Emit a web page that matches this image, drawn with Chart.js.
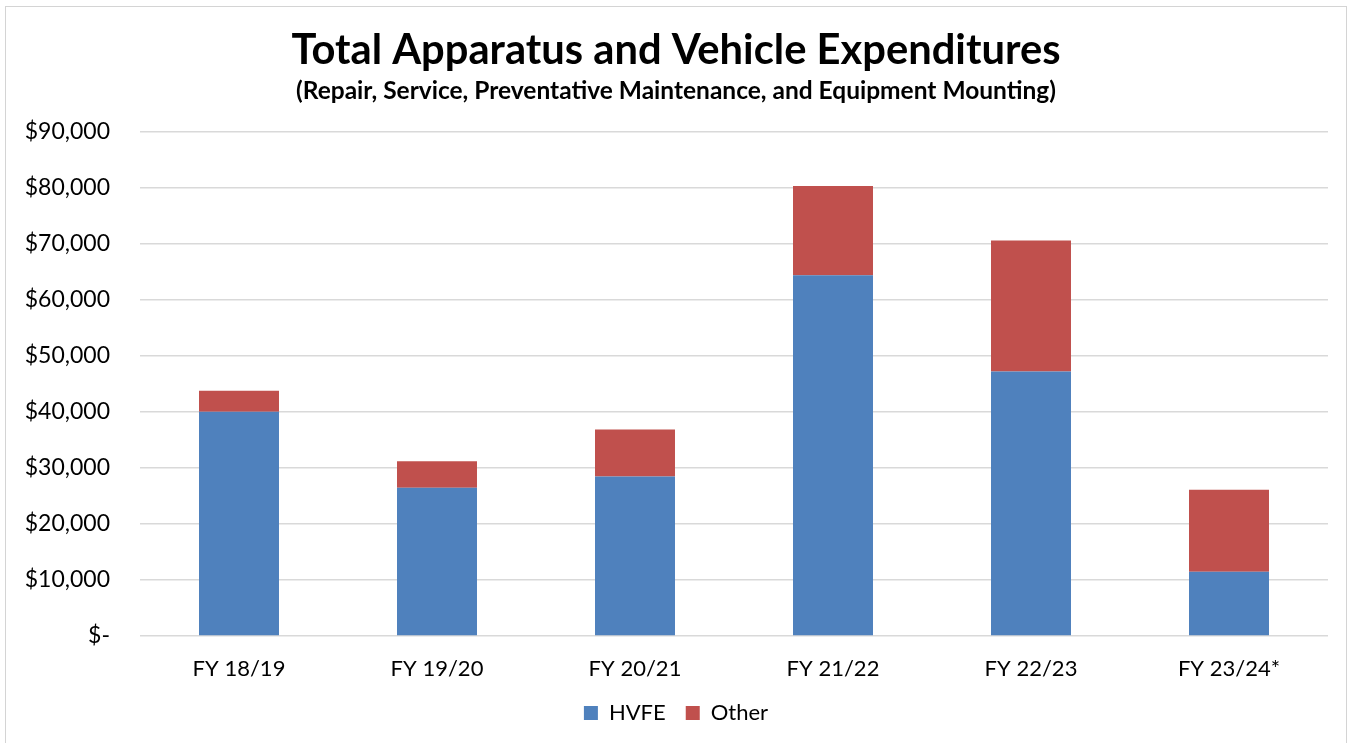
<!DOCTYPE html>
<html>
<head>
<meta charset="utf-8">
<script src="https://cdn.jsdelivr.net/npm/chart.js@4/dist/chart.umd.min.js"></script>
<style>
  html, body { margin: 0; padding: 0; background: #fff; }
  #wrap { position: absolute; left: 0; top: 0; width: 1350px; height: 743px; }
  #frame { position: absolute; left: 5px; top: 6px; width: 1340px; height: 745px; border: 1px solid #d4d4d4; pointer-events: none; }
</style>
</head>
<body>
<div id="wrap"><canvas id="c" width="1350" height="743"></canvas></div>
<div id="frame"></div>
<script>
const categories = ["FY 18/19", "FY 19/20", "FY 20/21", "FY 21/22", "FY 22/23", "FY 23/24*"];
const hvfe = [40000, 26430, 28450, 64340, 47200, 11480];
const other = [3750, 4760, 8390, 15910, 23340, 14590];
const yTicks = [0, 10000, 20000, 30000, 40000, 50000, 60000, 70000, 80000, 90000];
const titleText = "Total Apparatus and Vehicle Expenditures";
const subtitleText = "(Repair, Service, Preventative Maintenance, and Equipment Mounting)";

const FONT = "Lato, 'Open Sans', sans-serif";

function fmt(v) {
  if (v === 0) return "$-";
  return "$" + v.toLocaleString("en-US");
}

new Chart(document.getElementById("c"), {
  type: "bar",
  data: {
    labels: categories,
    datasets: [
      { label: "HVFE", data: hvfe, backgroundColor: "#4F81BD", borderWidth: 0 },
      { label: "Other", data: other, backgroundColor: "#C0504D", borderWidth: 0 }
    ]
  },
  options: {
    responsive: false,
    animation: false,
    devicePixelRatio: 1,
    layout: { padding: { left: 24, right: 22, top: 26, bottom: 9 } },
    datasets: { bar: { categoryPercentage: 1.0, barPercentage: 0.404 } },
    scales: {
      x: {
        stacked: true,
        grid: { display: false, drawTicks: false },
        border: { display: false },
        afterFit: (s) => { s.height = 46; },
        ticks: { color: "#000", font: { family: FONT, size: 22 }, padding: 20 }
      },
      y: {
        stacked: true,
        min: 0,
        max: 90000,
        afterBuildTicks: (s) => { s.ticks = yTicks.map(v => ({ value: v })); },
        afterFit: (s) => { s.width = 116; },
        grid: { color: "#D9D9D9", lineWidth: 1.5, drawTicks: false },
        border: { display: false },
        ticks: {
          color: "#000",
          font: { family: FONT, size: 23 },
          padding: 30,
          callback: (v) => fmt(v)
        }
      }
    },
    plugins: {
      title: {
        display: true,
        text: titleText,
        color: "#000",
        font: { family: FONT, size: 41.7, weight: "bold" },
        padding: { top: 0, bottom: 0 }
      },
      subtitle: {
        display: true,
        text: subtitleText,
        color: "#000",
        font: { family: FONT, size: 24.5, weight: "bold" },
        padding: { top: 0, bottom: 26 }
      },
      legend: {
        position: "bottom",
        labels: {
          color: "#000",
          font: { family: FONT, size: 22 },
          boxWidth: 14,
          boxHeight: 14,
          padding: 20
        }
      },
      tooltip: { enabled: false }
    }
  }
});
</script>
</body>
</html>
